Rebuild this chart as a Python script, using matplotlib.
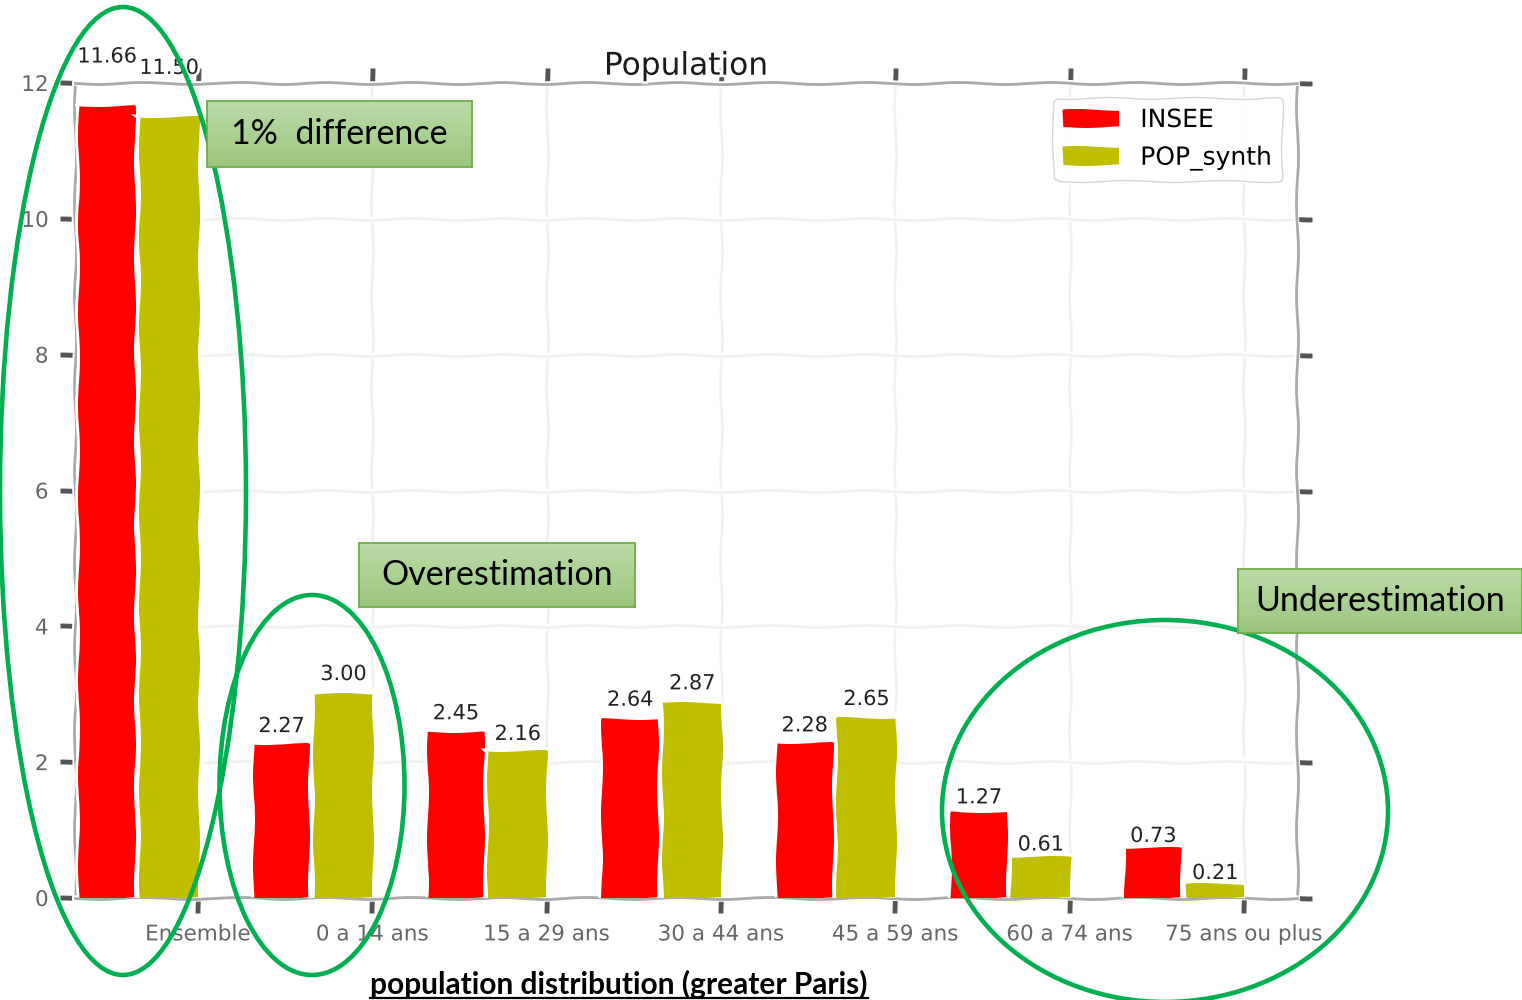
import matplotlib
matplotlib.use('Agg')
import numpy as np
import matplotlib.pyplot as plt
from matplotlib.patches import Ellipse, Rectangle
from matplotlib.lines import Line2D

# data
categories = ['Ensemble', '0 a 14 ans', '15 a 29 ans', '30 a 44 ans',
              '45 a 59 ans', '60 a 74 ans', '75 ans ou plus']
insee = [11.66, 2.27, 2.45, 2.64, 2.28, 1.27, 0.73]
pop_synth = [11.50, 3.00, 2.16, 2.87, 2.65, 0.61, 0.21]
yticks = [0, 2, 4, 6, 8, 10, 12]

# notes drawn on top of the chart (pixel boxes: x0, y0, x1, y1 from top-left)
notes = ['1%  difference', 'Overestimation', 'Underestimation']
note_boxes = [(207, 101, 472, 167), (359, 543, 635, 607), (1238, 569, 1522, 633)]
# ellipses: centre x, centre y, width, height (pixels from top-left)
rings = [(123, 491, 246, 968), (312, 785, 185, 380), (1165, 811, 446, 382)]
caption = 'population distribution (greater Paris)'

W, H = 1522, 1000

with plt.xkcd(scale=1, length=100, randomness=2):
    plt.rcParams['font.family'] = ['DejaVu Sans']
    fig = plt.figure(figsize=(W / 100, H / 100), dpi=100)
    ax = fig.add_axes([75 / W, 1 - 898 / H, (1297 - 75) / W, (898 - 83) / H])

    x = list(range(len(categories)))
    xr = [i - 0.52 for i in x]
    xy = [i - 0.165 for i in x]
    ax.bar(xr, insee, width=0.32, color='r', label='INSEE', zorder=3)
    ax.bar(xy, pop_synth, width=0.34, color='y', label='POP_synth', zorder=3)

    for xi, v in zip(xr, insee):
        ax.text(xi, v * 1.05, f'{v:.2f}', ha='center', va='bottom',
                fontsize=15, color='#222222', zorder=4)
    for xi, v in zip(xy, pop_synth):
        ax.text(xi, v * 1.05, f'{v:.2f}', ha='center', va='bottom',
                fontsize=15, color='#222222', zorder=4)

    ax.set_xlim(-0.705, 6.304)
    ax.set_ylim(0, 12)
    ax.set_xticks(x)
    ax.set_xticklabels(categories)
    ax.set_yticks(yticks)
    ax.tick_params(top=True, right=True, direction='out', length=11, width=3.5,
                   color='#555555', labelcolor='#666666', labelsize=15.5, pad=8)
    ax.grid(True, color='#f2f2f2', linewidth=2)
    ax.set_axisbelow(True)
    for s in ax.spines.values():
        s.set_color('#aaaaaa')
        s.set_linewidth(2)

    ax.set_title('Population', fontsize=22.5, pad=6, color='#1a1a1a')
    leg = ax.legend(loc='upper right', fontsize=18, handlelength=2.3,
                    handleheight=0.7, labelspacing=0.55, frameon=True,
                    borderaxespad=0.6)
    leg.get_frame().set_edgecolor('#cccccc')

    fig.canvas.draw()

    # annotations are drawn without the hand-drawn look
    plt.rcParams['path.sketch'] = None
    plt.rcParams['path.effects'] = []

    for cx, cy, w, h in rings:
        e = Ellipse((cx / W, 1 - cy / H), w / W, h / H, transform=fig.transFigure,
                    fill=False, edgecolor='#00b050', linewidth=3.3, zorder=10)
        fig.add_artist(e)

    grad = np.linspace(0, 1, 64).reshape(-1, 1)
    green = matplotlib.colors.LinearSegmentedColormap.from_list('g', ['#b9dba6', '#9cc67f'])
    for label, (x0, y0, x1, y1) in zip(notes, note_boxes):
        bax = fig.add_axes([x0 / W, 1 - y1 / H, (x1 - x0) / W, (y1 - y0) / H], zorder=11)
        bax.imshow(grad, aspect='auto', cmap=green, extent=(0, 1, 0, 1), origin='upper')
        bax.set_xticks([])
        bax.set_yticks([])
        for s in bax.spines.values():
            s.set_color('#70ad47')
            s.set_linewidth(1.3)
        bax.text(0.5, 0.5, label, ha='center', va='center', fontsize=24.5,
                 family='Lato', color='black', transform=bax.transAxes)

    cap = fig.text(619 / W, 1 - 984 / H, caption, ha='center', va='center',
                   fontsize=21.5, family='Lato', weight='bold', color='black')
    fig.canvas.draw()
    bb = cap.get_window_extent()
    fig.add_artist(Line2D([bb.x0 / W, bb.x1 / W], [(bb.y0 + 1) / H, (bb.y0 + 1) / H],
                          transform=fig.transFigure, color='black', linewidth=1.6))

    fig.savefig('out.png', dpi=100)
